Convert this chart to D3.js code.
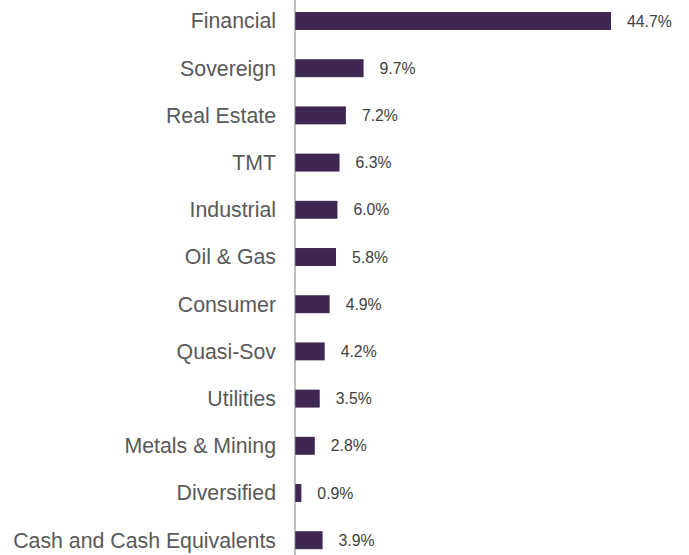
<!DOCTYPE html>
<html><head><meta charset="utf-8">
<script src="https://cdn.jsdelivr.net/npm/d3@7/dist/d3.min.js"></script>
<style>body{margin:0;background:#fff}svg{display:block}</style>
</head><body><svg id="c" width="689" height="555"></svg>
<script>
const categories = ["Financial","Sovereign","Real Estate","TMT","Industrial","Oil & Gas","Consumer","Quasi-Sov","Utilities","Metals & Mining","Diversified","Cash and Cash Equivalents"];
const values = [44.7,9.7,7.2,6.3,6.0,5.8,4.9,4.2,3.5,2.8,0.9,3.9];
const valueLabels = ["44.7%","9.7%","7.2%","6.3%","6.0%","5.8%","4.9%","4.2%","3.5%","2.8%","0.9%","3.9%"];

const svg = d3.select("#c");
const x0 = 295;
const x = d3.scaleLinear().domain([0, 44.7]).range([x0, 611]);
const y = d3.scaleBand().domain(categories).range([-2.6, 563.8]).paddingInner(0.62).paddingOuter(0.31);

svg.selectAll("rect.bar").data(categories).enter().append("rect")
  .attr("class","bar")
  .attr("x", x0)
  .attr("y", d => y(d))
  .attr("width", (d,i) => x(values[i]) - x0)
  .attr("height", y.bandwidth())
  .attr("fill", "#3e2753");

svg.append("line").attr("x1", x0).attr("x2", x0).attr("y1", 0).attr("y2", 555)
  .attr("stroke", "#7f7f7f").attr("stroke-width", 1);

svg.selectAll("text.cat").data(categories).enter().append("text")
  .attr("class","cat")
  .attr("x", 276)
  .attr("y", d => y(d) + y.bandwidth()/2)
  .attr("dy", "0.35em")
  .attr("text-anchor", "end")
  .attr("font-family", "Liberation Sans, Arial, sans-serif")
  .attr("font-size", 21.3)
  .attr("fill", "#595959")
  .text(d => d);

svg.selectAll("text.val").data(categories).enter().append("text")
  .attr("class","val")
  .attr("x", (d,i) => x(values[i]) + 16)
  .attr("y", d => y(d) + y.bandwidth()/2)
  .attr("dy", "0.35em")
  .attr("font-family", "Liberation Sans, Arial, sans-serif")
  .attr("font-size", 15.8)
  .attr("fill", "#404040")
  .text((d,i) => valueLabels[i]);
</script></body></html>
